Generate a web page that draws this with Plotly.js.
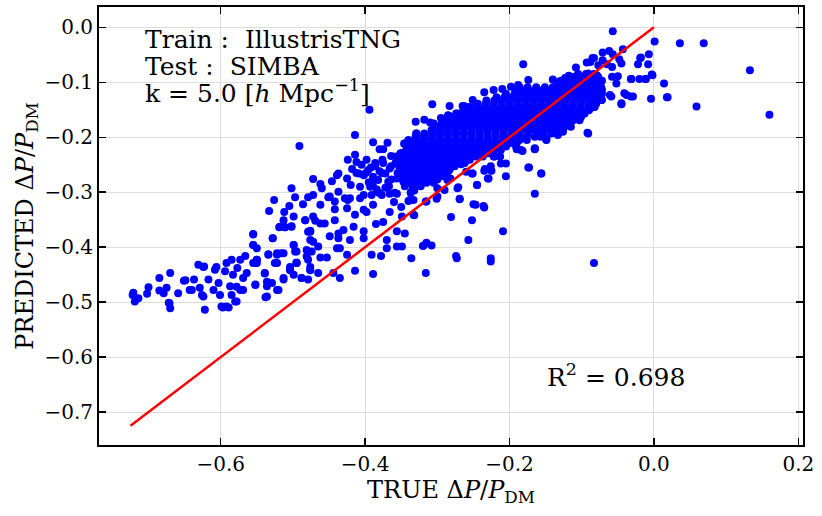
<!DOCTYPE html>
<html>
<head>
<meta charset="utf-8">
<script src="https://cdn.plot.ly/plotly-3.0.1.min.js"></script>
<style>
  body { margin: 0; background: white; }
  #chart { width: 822px; height: 516px; }
</style>
</head>
<body>
<div id="chart"></div>
<script>
// [true, predicted] pairs, grouped by region

// low tail, true < -0.5
const tailPoints = [
  [-0.721,-0.483],[-0.719,-0.499],[-0.714,-0.493],[-0.722,-0.487],[-0.702,-0.485],[-0.700,-0.473],
  [-0.685,-0.456],[-0.685,-0.479],[-0.679,-0.484],[-0.675,-0.474],[-0.671,-0.502],[-0.670,-0.511],
  [-0.670,-0.447],[-0.659,-0.484],[-0.651,-0.461],[-0.643,-0.478],[-0.637,-0.459],[-0.631,-0.432],
  [-0.629,-0.474],[-0.624,-0.490],[-0.622,-0.514],[-0.623,-0.435],[-0.617,-0.459],[-0.610,-0.478],
  [-0.608,-0.441],[-0.603,-0.465],[-0.601,-0.487],[-0.597,-0.510],[-0.594,-0.444],[-0.592,-0.429],
  [-0.589,-0.510],[-0.587,-0.471],[-0.585,-0.487],[-0.583,-0.450],[-0.578,-0.499],[-0.577,-0.438],
  [-0.573,-0.478],[-0.569,-0.456],[-0.564,-0.447],[-0.552,-0.468],[-0.550,-0.429],[-0.539,-0.447],
  [-0.538,-0.491],[-0.536,-0.471],[-0.529,-0.465],[-0.522,-0.478],[-0.513,-0.459],[-0.504,-0.441],
  [-0.499,-0.450],[-0.495,-0.429],[-0.488,-0.456],[-0.479,-0.459],[-0.476,-0.441],[-0.465,-0.447],
  [-0.444,-0.447],[-0.435,-0.456],[-0.414,-0.443],[-0.389,-0.449],
  [-0.649,-0.460],[-0.624,-0.436],[-0.606,-0.436],[-0.585,-0.423],[-0.573,-0.423],[-0.566,-0.416],
  [-0.555,-0.376],[-0.555,-0.396],[-0.550,-0.402],[-0.551,-0.428],[-0.534,-0.413],[-0.528,-0.384],
  [-0.519,-0.364],[-0.511,-0.364],[-0.502,-0.363],[-0.522,-0.411],[-0.513,-0.411],[-0.499,-0.396],
  [-0.497,-0.408],[-0.522,-0.429],[-0.504,-0.442],[-0.495,-0.429],[-0.483,-0.351],[-0.476,-0.372],
  [-0.472,-0.390],[-0.481,-0.405],[-0.481,-0.417],[-0.479,-0.423],[-0.476,-0.442],[-0.488,-0.456],
  [-0.513,-0.456],[-0.539,-0.448],[-0.536,-0.463],[-0.552,-0.469],[-0.536,-0.490],[-0.520,-0.478],
  [-0.578,-0.472],[-0.569,-0.478],[-0.580,-0.499],[-0.592,-0.508],[-0.599,-0.508],[-0.626,-0.487],
  [-0.640,-0.478],[-0.672,-0.501],[-0.555,-0.429],[-0.550,-0.423],[-0.552,-0.429],[-0.525,-0.429],
  [-0.504,-0.436],[-0.476,-0.436]
];

// middle spread, -0.5 < true < -0.3
const midPoints = [
  [-0.491,-0.216],[-0.414,-0.196],[-0.394,-0.150],[-0.389,-0.209],[-0.380,-0.222],[-0.369,-0.210],
  [-0.375,-0.222],[-0.364,-0.234],[-0.349,-0.229],[-0.346,-0.212],[-0.334,-0.214],[-0.329,-0.193],
  [-0.424,-0.241],[-0.414,-0.232],[-0.437,-0.266],[-0.425,-0.275],[-0.446,-0.280],[-0.472,-0.276],
  [-0.462,-0.285],[-0.460,-0.293],[-0.502,-0.293],[-0.497,-0.309],[-0.526,-0.314],[-0.533,-0.334],
  [-0.505,-0.325],[-0.512,-0.336],[-0.486,-0.322],[-0.479,-0.309],[-0.472,-0.305],[-0.462,-0.323],
  [-0.451,-0.309],[-0.442,-0.317],[-0.442,-0.331],[-0.437,-0.299],[-0.428,-0.311],[-0.424,-0.314],
  [-0.425,-0.329],[-0.420,-0.287],[-0.409,-0.266],[-0.402,-0.269],[-0.396,-0.260],[-0.407,-0.290],
  [-0.402,-0.305],[-0.407,-0.311],[-0.393,-0.290],[-0.389,-0.272],[-0.382,-0.278],[-0.386,-0.247],
  [-0.375,-0.247],[-0.366,-0.257],[-0.372,-0.266],[-0.368,-0.281],[-0.356,-0.275],[-0.347,-0.281],
  [-0.347,-0.260],[-0.338,-0.247],[-0.329,-0.238],[-0.324,-0.253],[-0.336,-0.275],[-0.377,-0.305],
  [-0.391,-0.305],[-0.366,-0.303],[-0.356,-0.303],[-0.336,-0.299],[-0.340,-0.316],[-0.402,-0.332],
  [-0.398,-0.336],[-0.414,-0.341],[-0.366,-0.336],[-0.333,-0.341],[-0.349,-0.344],[-0.483,-0.351],
  [-0.469,-0.352],[-0.462,-0.357],[-0.456,-0.357],[-0.476,-0.370],[-0.518,-0.363],[-0.511,-0.364],
  [-0.502,-0.362],[-0.555,-0.377],[-0.528,-0.384],[-0.449,-0.380],[-0.437,-0.375],[-0.437,-0.384],
  [-0.421,-0.387],[-0.416,-0.363],[-0.402,-0.371],[-0.402,-0.384],[-0.385,-0.358],[-0.375,-0.354],
  [-0.356,-0.371],[-0.345,-0.375],[-0.370,-0.387],[-0.356,-0.399],[-0.370,-0.402],[-0.349,-0.399],
  [-0.320,-0.398],[-0.315,-0.392],[-0.336,-0.420],[-0.378,-0.416],[-0.391,-0.414],[-0.425,-0.414],
  [-0.435,-0.402],[-0.439,-0.402],[-0.476,-0.387],[-0.474,-0.408],[-0.465,-0.399],[-0.462,-0.419],
  [-0.453,-0.419],[-0.499,-0.396],[-0.495,-0.408],[-0.516,-0.411],[-0.522,-0.414],[-0.534,-0.414],
  [-0.550,-0.423],[-0.555,-0.396],[-0.495,-0.428],[-0.513,-0.351],[-0.499,-0.344],[-0.449,-0.308],
  [-0.421,-0.311],[-0.442,-0.351],[-0.430,-0.369],[-0.412,-0.245],[-0.412,-0.265],[-0.439,-0.269],
  [-0.472,-0.344],[-0.479,-0.372],[-0.389,-0.323],[-0.307,-0.140],[-0.283,-0.143],[-0.263,-0.143],
  [-0.285,-0.161],[-0.266,-0.161],[-0.310,-0.173],[-0.345,-0.211],[-0.329,-0.193],[-0.271,-0.291],
  [-0.269,-0.312],[-0.250,-0.322],[-0.236,-0.325],[-0.301,-0.312],[-0.315,-0.317],[-0.338,-0.314],
  [-0.282,-0.275],[-0.319,-0.397],[-0.308,-0.397],[-0.274,-0.416],[-0.226,-0.420],[-0.316,-0.447],
  [-0.273,-0.420],[-0.226,-0.426],[-0.257,-0.387],[-0.252,-0.351],[-0.235,-0.328],[-0.247,-0.323],
  [-0.269,-0.313],[-0.281,-0.345],[-0.209,-0.371],[-0.334,-0.281],[-0.332,-0.297],[-0.333,-0.314],
  [-0.332,-0.342],[-0.316,-0.317],[-0.300,-0.308],[-0.300,-0.293],[-0.290,-0.296],[-0.286,-0.278],
  [-0.272,-0.293],[-0.245,-0.287],[-0.230,-0.275],[-0.235,-0.261],[-0.221,-0.235],[-0.212,-0.248],
  [-0.226,-0.253],[-0.251,-0.266],[-0.260,-0.263],[-0.267,-0.249],[-0.285,-0.262],[-0.309,-0.257],
  [-0.318,-0.229],[-0.323,-0.281],[-0.398,-0.241],[-0.392,-0.255],[-0.380,-0.262],[-0.395,-0.282],
  [-0.384,-0.295],[-0.372,-0.292],[-0.360,-0.318],[-0.350,-0.327],[-0.405,-0.250],[-0.418,-0.258]
];

// upper right, true > -0.3
const upperPoints = [
  [-0.213,-0.235],[-0.222,-0.235],[-0.234,-0.258],[-0.225,-0.261],[-0.205,-0.248],[-0.205,-0.271],
  [-0.229,-0.275],[-0.245,-0.287],[-0.252,-0.266],[-0.190,-0.222],[-0.182,-0.225],[-0.165,-0.222],
  [-0.173,-0.255],[-0.156,-0.266],[-0.165,-0.303],[-0.174,-0.255],[-0.149,-0.205],[-0.137,-0.184],
  [-0.191,-0.217],[-0.184,-0.223],[-0.165,-0.221],[-0.149,-0.204],[-0.133,-0.196],[-0.126,-0.190],
  [-0.122,-0.178],[-0.159,-0.196],[-0.170,-0.184],[-0.117,-0.151],[-0.102,-0.163],[-0.092,-0.192],
  [-0.083,-0.429],[-0.181,-0.067],[-0.174,-0.096],[-0.186,-0.109],[-0.251,-0.132],[-0.265,-0.143],
  [-0.057,-0.007],[0.001,-0.026],[-0.007,-0.049],[-0.018,-0.055],[-0.022,-0.067],[-0.008,-0.067],
  [-0.002,-0.087],[-0.031,-0.094],[-0.020,-0.094],[-0.011,-0.094],[0.014,-0.102],[0.018,-0.127],
  [-0.004,-0.130],[-0.029,-0.126],[-0.038,-0.123],[-0.045,-0.138],[-0.052,-0.102],[-0.050,-0.089],
  [-0.058,-0.090],[-0.061,-0.123],[-0.072,-0.132],[-0.072,-0.114],[-0.086,-0.146],[-0.091,-0.193],
  [-0.102,-0.163],[-0.116,-0.152],[-0.126,-0.187],[-0.149,-0.202],[-0.165,-0.220],[-0.108,-0.073],
  [-0.088,-0.063],[-0.083,-0.056],[-0.071,-0.046],[-0.062,-0.043],[-0.057,-0.049],[-0.071,-0.060],
  [-0.065,-0.067],[-0.048,-0.058],[-0.045,-0.066],[-0.058,-0.072],[-0.077,-0.069],[-0.091,-0.084],
  [-0.079,-0.087],[0.036,-0.029],[0.069,-0.029],[0.133,-0.078],[0.160,-0.159],[0.059,-0.144],
  [0.019,-0.127],[-0.003,-0.086],[-0.019,-0.056],[-0.032,-0.094],[-0.012,-0.094],[-0.045,-0.140],
  [-0.032,-0.126],[-0.041,-0.120],[-0.059,-0.126],[-0.073,-0.132],[-0.086,-0.144],[-0.101,-0.163],
  [-0.043,-0.040],[-0.085,-0.056],[-0.093,-0.064],[-0.123,-0.092],[-0.110,-0.090],[-0.156,-0.266],
  [-0.330,-0.172],[-0.318,-0.168],[-0.305,-0.175],[-0.295,-0.165],[-0.285,-0.160],[-0.274,-0.157],
  [-0.262,-0.152],[-0.250,-0.147],[-0.235,-0.118],[-0.222,-0.114],[-0.210,-0.112],[-0.198,-0.108],
  [-0.188,-0.105],[-0.140,-0.095],[-0.130,-0.098],[-0.118,-0.088]
];

// solid core: each row is [predicted, list of true values]
const coreRows = [
  [-0.085, [-0.105,-0.094,-0.083]],
  [-0.091, [-0.110,-0.099,-0.088,-0.077]],
  [-0.097, [-0.128,-0.116,-0.104,-0.093,-0.081,-0.072]],
  [-0.103, [-0.134,-0.122,-0.110,-0.099,-0.087,-0.076]],
  [-0.109, [-0.175,-0.163,-0.151,-0.140,-0.128,-0.117,-0.106,-0.095,-0.084,-0.073]],
  [-0.115, [-0.190,-0.178,-0.166,-0.155,-0.144,-0.133,-0.122,-0.111,-0.100,-0.089,-0.078]],
  [-0.121, [-0.205,-0.193,-0.182,-0.171,-0.160,-0.149,-0.138,-0.127,-0.116,-0.105,-0.094,-0.083,-0.072]],
  [-0.127, [-0.218,-0.207,-0.196,-0.185,-0.174,-0.163,-0.152,-0.141,-0.130,-0.119,-0.108,-0.097,-0.086,-0.076]],
  [-0.133, [-0.232,-0.221,-0.210,-0.199,-0.188,-0.177,-0.166,-0.155,-0.144,-0.133,-0.122,-0.111,-0.100,-0.089,-0.078]],
  [-0.139, [-0.244,-0.233,-0.222,-0.211,-0.200,-0.189,-0.178,-0.167,-0.156,-0.145,-0.134,-0.123,-0.112,-0.101,-0.090,-0.080]],
  [-0.145, [-0.256,-0.245,-0.234,-0.223,-0.212,-0.201,-0.190,-0.179,-0.168,-0.157,-0.146,-0.135,-0.124,-0.113,-0.102,-0.091,-0.082]],
  [-0.151, [-0.264,-0.253,-0.242,-0.231,-0.220,-0.209,-0.198,-0.187,-0.176,-0.165,-0.154,-0.143,-0.132,-0.121,-0.110,-0.099,-0.090]],
  [-0.157, [-0.272,-0.261,-0.250,-0.239,-0.228,-0.217,-0.206,-0.195,-0.184,-0.173,-0.162,-0.151,-0.140,-0.129,-0.118,-0.107,-0.096]],
  [-0.163, [-0.280,-0.269,-0.258,-0.247,-0.236,-0.225,-0.214,-0.203,-0.192,-0.181,-0.170,-0.159,-0.148,-0.137,-0.126,-0.115,-0.106]],
  [-0.169, [-0.288,-0.277,-0.266,-0.255,-0.244,-0.233,-0.222,-0.211,-0.200,-0.189,-0.178,-0.167,-0.156,-0.145,-0.134,-0.123,-0.112,-0.103]],
  [-0.175, [-0.294,-0.283,-0.272,-0.261,-0.250,-0.239,-0.228,-0.217,-0.206,-0.195,-0.184,-0.173,-0.162,-0.151,-0.140,-0.129,-0.118]],
  [-0.181, [-0.300,-0.289,-0.278,-0.267,-0.256,-0.245,-0.234,-0.223,-0.212,-0.201,-0.190,-0.179,-0.168,-0.157,-0.146,-0.135,-0.124,-0.115]],
  [-0.187, [-0.308,-0.297,-0.286,-0.275,-0.264,-0.253,-0.242,-0.231,-0.220,-0.209,-0.198,-0.187,-0.176,-0.165,-0.154,-0.143,-0.130]],
  [-0.193, [-0.318,-0.307,-0.296,-0.285,-0.274,-0.263,-0.252,-0.241,-0.230,-0.219,-0.208,-0.197,-0.186,-0.175,-0.164,-0.153,-0.142]],
  [-0.199, [-0.330,-0.319,-0.308,-0.297,-0.286,-0.275,-0.264,-0.253,-0.242,-0.231,-0.220,-0.209,-0.198,-0.187,-0.176,-0.165,-0.157]],
  [-0.205, [-0.340,-0.329,-0.318,-0.307,-0.296,-0.285,-0.274,-0.263,-0.252,-0.241,-0.230,-0.219,-0.208,-0.197,-0.186,-0.176]],
  [-0.211, [-0.333,-0.322,-0.311,-0.300,-0.289,-0.278,-0.267,-0.256,-0.245,-0.234,-0.223,-0.212,-0.200,-0.190]],
  [-0.217, [-0.337,-0.326,-0.315,-0.304,-0.293,-0.282,-0.271,-0.260,-0.249,-0.238,-0.227,-0.216,-0.205]],
  [-0.223, [-0.343,-0.332,-0.321,-0.310,-0.299,-0.288,-0.277,-0.266,-0.255,-0.244,-0.233,-0.222,-0.212]],
  [-0.229, [-0.351,-0.340,-0.329,-0.318,-0.307,-0.296,-0.285,-0.274,-0.263,-0.252,-0.241,-0.230,-0.222]],
  [-0.235, [-0.357,-0.346,-0.335,-0.324,-0.313,-0.302,-0.291,-0.280,-0.269,-0.258,-0.247,-0.237]],
  [-0.241, [-0.376,-0.354,-0.343,-0.332,-0.321,-0.310,-0.299,-0.288,-0.277,-0.266,-0.255]],
  [-0.247, [-0.358,-0.347,-0.336,-0.325,-0.314,-0.303,-0.292,-0.281,-0.270,-0.262]],
  [-0.253, [-0.386,-0.364,-0.353,-0.342,-0.331,-0.320,-0.309,-0.298,-0.287,-0.276]],
  [-0.259, [-0.349,-0.338,-0.327,-0.316,-0.305,-0.294,-0.283]],
  [-0.265, [-0.399,-0.377,-0.355,-0.344,-0.333,-0.322,-0.311,-0.300,-0.289]],
  [-0.271, [-0.349,-0.338,-0.327,-0.316,-0.305,-0.294]],
  [-0.277, [-0.386,-0.364,-0.342,-0.331,-0.320,-0.309,-0.300]],
  [-0.283, [-0.337,-0.326,-0.315,-0.305]],
  [-0.289, [-0.389,-0.367,-0.345,-0.334,-0.323]],
  [-0.301, [-0.381,-0.359,-0.337]]
];

const corePoints = coreRows.flatMap(([p, xs]) => xs.map(t => [t, p]));
const allPoints = [...tailPoints, ...midPoints, ...upperPoints, ...corePoints];

const trueVals = allPoints.map(p => p[0]);
const predVals = allPoints.map(p => p[1]);

// one-to-one reference line
const lineX = [-0.725, 0.0];
const lineY = [-0.725, 0.0];

const xTicks = [-0.6, -0.4, -0.2, 0.0, 0.2];
const yTicks = [0.0, -0.1, -0.2, -0.3, -0.4, -0.5, -0.6, -0.7];

const infoLines = [
  'Train :\u00a0\u00a0IllustrisTNG',
  'Test :\u00a0\u00a0SIMBA',
  'k = 5.0 [<i>h</i> Mpc<sup>\u22121</sup>]'
];
const r2Text = 'R<sup>2</sup> = 0.698';

const scatter = {
  x: trueVals,
  y: predVals,
  type: 'scatter',
  mode: 'markers',
  marker: { color: '#0000ff', size: 8, line: { width: 0 } },
  hoverinfo: 'skip'
};

const refLine = {
  x: lineX,
  y: lineY,
  type: 'scatter',
  mode: 'lines',
  line: { color: '#ff0000', width: 2.5 },
  hoverinfo: 'skip'
};

const axisBase = {
  ticks: 'inside',
  ticklen: 7,
  tickwidth: 1.5,
  tickcolor: 'black',
  showline: true,
  linewidth: 2,
  linecolor: 'black',
  mirror: 'allticks',
  showgrid: true,
  gridcolor: '#dddddd',
  gridwidth: 1,
  zeroline: false,
  tickformat: '.1f',
  tickfont: { size: 20 }
};

const layout = {
  width: 822,
  height: 516,
  margin: { l: 99, r: 19, t: 7, b: 71 },
  paper_bgcolor: 'white',
  plot_bgcolor: 'white',
  showlegend: false,
  font: { family: 'DejaVu Serif', size: 20, color: 'black' },
  xaxis: {
    ...axisBase,
    range: [-0.7686, 0.2065],
    tickvals: xTicks,
    title: { text: 'TRUE \u0394<i>P</i>/<i>P</i><sub>DM</sub>', font: { size: 24 }, standoff: 6 }
  },
  yaxis: {
    ...axisBase,
    range: [-0.760, 0.037],
    tickvals: yTicks,
    title: { text: 'PREDICTED \u0394<i>P</i>/<i>P</i><sub>DM</sub>', font: { size: 24 }, standoff: 4 }
  },
  annotations: [
    ...infoLines.map((t, i) => ({
      text: t, xref: 'paper', yref: 'paper', x: 0.0625, y: [0.925, 0.865, 0.806][i],
      xanchor: 'left', yanchor: 'middle', showarrow: false, font: { size: 25 }
    })),
    {
      text: r2Text, xref: 'paper', yref: 'paper', x: 0.734, y: 0.158,
      xanchor: 'center', yanchor: 'middle', showarrow: false, font: { size: 25 }
    }
  ]
};

Plotly.newPlot('chart', [scatter, refLine], layout, { staticPlot: true });
</script>
</body>
</html>
